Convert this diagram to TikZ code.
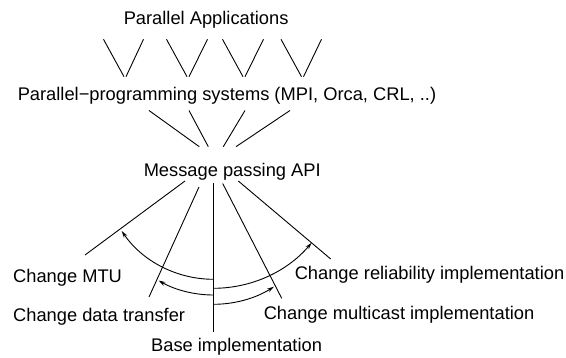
\documentclass[tikz,border=0pt]{standalone}
\usepackage{fontspec}
\setmainfont{Liberation Sans}
\usetikzlibrary{arrows.meta}
\usetikzlibrary{positioning}

\tikzset{
  lbl/.style={inner sep=0pt, anchor=base west, font=\fontsize{18.3}{22}\selectfont},
  chg/.style={-{Stealth[length=7pt,width=4pt]}},
}

\begin{document}
\begin{tikzpicture}[x=1pt,y=-1pt,line width=0.9pt]
        \useasboundingbox (0,0) rectangle (566,358);
        \node[lbl] (apps) at (123.3,25) {Parallel Applications};
        \node[lbl] (pps) at (17.3,100.7) {Parallel−programming systems (MPI, Orca, CRL, ..)};
        \node[lbl] (api) at (143.3,176.7) {Message passing API};
        \node[lbl] (mtu) at (12.7,282.7) {Change MTU};
        \node[lbl] (xfer) at (12.7,321.7) {Change data transfer};
        \node[lbl] (base) at (150.7,351.7) {Base implementation};
        \node[lbl] (rel) at (294.3,279.3) {Change reliability implementation};
        \node[lbl] (mcast) at (263.3,320) {Change multicast implementation};

        % applications on top of the systems
        \foreach \l/\m/\r [count=\i] in {103.5/125/143.5, 166.5/188/207.5, 222.5/244/263.5, 281/302.5/321.5} {
            \coordinate (vl\i) at (\l,39.3);
            \coordinate (vr\i) at (\r,39.3);
            \coordinate (vb\i) at (\m,76.7);
            \draw (vl\i) -- ([xshift=-1pt]vb\i);
            \draw (vr\i) -- ([xshift=1pt]vb\i);
        }

        \foreach \t/\b [count=\i] in {149/199.3, 189/208.3, 245/223.3, 290/236} {
            \coordinate (pt\i) at (\t,110.5);
            \coordinate (pb\i) at (\b,146.7);
            \draw (pt\i) -- (pb\i);
        }

        % the variants below the API
        \foreach \xa/\ya/\xb/\yb [count=\i] in {185/181/85/255, 199/187/149/297, 213.5/183.5/213.5/332, 222.7/183.5/281.7/298.3, 238.3/181/330.7/259} {
            \coordinate (ft\i) at (\xa,\ya);
            \coordinate (fb\i) at (\xb,\yb);
            \draw (ft\i) -- (fb\i);
        }

        \coordinate (a1) at (213.5,279.3);
        \coordinate (a2) at (213.5,295);
        \coordinate (a3) at (213.5,288.3);
        \coordinate (a4) at (213.5,304.3);
        \draw[chg] (a1) arc[start angle=90,end angle=145.5,radius=111.4];
        \draw[chg] (a2) arc[start angle=90,end angle=119.5,radius=111.6];
        \draw[chg] (a3) arc[start angle=90,end angle=40.2,radius=128.5];
        \draw[chg] (a4) arc[start angle=90,end angle=57.6,radius=112.8];
\end{tikzpicture}
\end{document}
